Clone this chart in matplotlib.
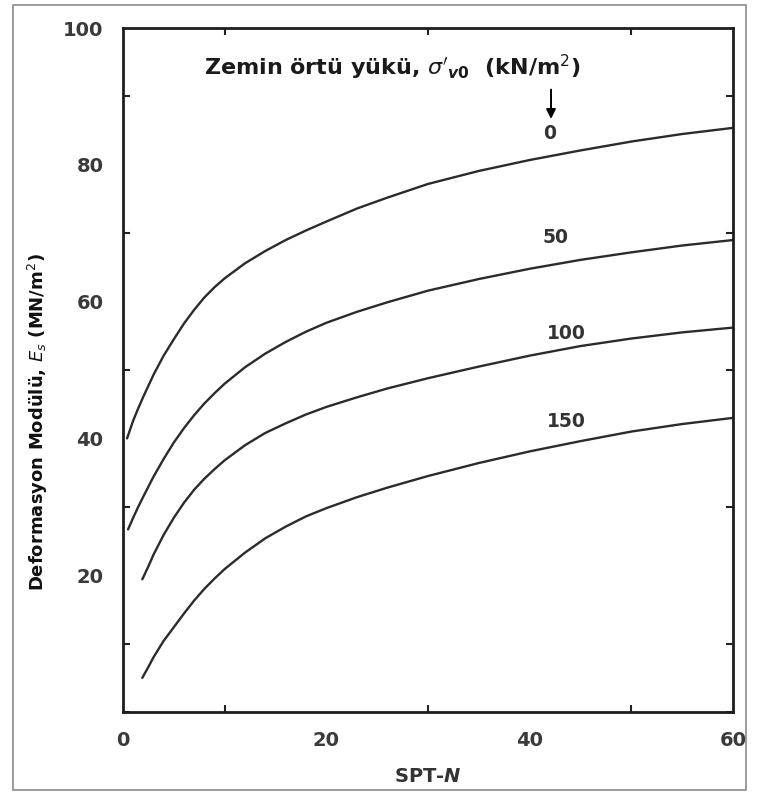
import matplotlib.pyplot as plt
from matplotlib.patches import Rectangle

# ==========================================
# data
# ==========================================
n_0 = [0.4, 1, 1.5, 2, 3, 4, 5, 6, 7, 8, 9, 10, 12, 14, 16, 18, 20, 23, 26, 30,
       35, 40, 45, 50, 55, 60]
es_0 = [40, 42.6, 44.4, 46.1, 49.3, 52.1, 54.5, 56.8, 58.8, 60.6, 62.1, 63.4, 65.6,
        67.4, 69, 70.4, 71.7, 73.6, 75.2, 77.2, 79.1, 80.7, 82.1, 83.4, 84.5, 85.4]

n_50 = [0.5, 1, 1.5, 2, 3, 4, 5, 6, 7, 8, 9, 10, 12, 14, 16, 18, 20, 23, 26, 30,
        35, 40, 45, 50, 55, 60]
es_50 = [26.7, 28.4, 30, 31.5, 34.4, 37, 39.4, 41.5, 43.4, 45.1, 46.6, 48, 50.4, 52.4,
         54.1, 55.6, 56.9, 58.5, 59.9, 61.6, 63.3, 64.8, 66.1, 67.2, 68.2, 69]

n_100 = [1.9, 2.5, 3, 4, 5, 6, 7, 8, 9, 10, 12, 14, 16, 18, 20, 23, 26, 30, 35, 40,
         45, 50, 55, 60]
es_100 = [19.4, 21.3, 23, 25.9, 28.4, 30.6, 32.5, 34.1, 35.5, 36.8, 39, 40.8, 42.2,
          43.5, 44.6, 46, 47.3, 48.8, 50.5, 52.1, 53.5, 54.6, 55.5, 56.2]

n_150 = [1.9, 2.5, 3, 4, 5, 6, 7, 8, 9, 10, 12, 14, 16, 18, 20, 23, 26, 30, 35, 40,
         45, 50, 55, 60]
es_150 = [5, 6.6, 8, 10.4, 12.4, 14.4, 16.3, 18, 19.5, 20.9, 23.3, 25.4, 27.1, 28.6,
          29.8, 31.4, 32.8, 34.5, 36.4, 38.1, 39.6, 41, 42.1, 43]

curve_labels = ["0", "50", "100", "150"]
label_pos = [(42, 84.6), (42.5, 69.4), (43.6, 55.3), (43.6, 42.5)]

x_ticks = [0, 20, 40, 60]
y_ticks = [20, 40, 60, 80, 100]

plt.rcParams["mathtext.fontset"] = "dejavusans"

# ==========================================
# figure
# ==========================================
fig = plt.figure(figsize=(7.57, 7.95), dpi=100)
fig.patches.append(Rectangle((13 / 757, 1 - 790 / 795), 733 / 757, 785 / 795,
                             transform=fig.transFigure, fill=False,
                             edgecolor="#8a8a8a", linewidth=1.2))

ax = fig.add_axes([123 / 757, 1 - 712 / 795, 610 / 757, 684 / 795])

for xs, ys in [(n_0, es_0), (n_50, es_50), (n_100, es_100), (n_150, es_150)]:
    ax.plot(xs, ys, color="#2b2b2b", linewidth=1.7, solid_capstyle="round")

for txt, (xp, yp) in zip(curve_labels, label_pos):
    ax.text(xp, yp, txt, ha="center", va="center", fontsize=13.5,
            fontweight="bold", color="#333333")

ax.text(26.5, 94.2, r"Zemin örtü yükü, $\boldsymbol{\sigma'}_{\boldsymbol{v0}}$  (kN/m$^2$)",
        ha="center", va="center", fontsize=16, fontweight="bold", color="#1a1a1a")
ax.annotate("", xy=(42.1, 86.3), xytext=(42.1, 91.4),
            arrowprops=dict(arrowstyle="-|>", color="black", lw=1.4, mutation_scale=14))

ax.set_xlim(0, 60)
ax.set_ylim(0, 100)
ax.set_xticks(x_ticks)
ax.set_xticks([10, 30, 50], minor=True)
ax.set_yticks(y_ticks)
ax.set_yticks(range(0, 101, 10), minor=True)
ax.tick_params(which="major", direction="in", length=0, labelsize=14,
               labelcolor="#3a3a3a", pad=14)
ax.tick_params(which="minor", direction="in", length=5, width=1.5,
               top=True, right=True, colors="#222222")
for lab in ax.get_xticklabels() + ax.get_yticklabels():
    lab.set_fontweight("bold")

for sp in ax.spines.values():
    sp.set_linewidth(2)
    sp.set_color("#1e1e1e")

ax.set_xlabel(r"SPT-$\boldsymbol{N}$", fontsize=14, fontweight="bold",
              color="#333333")
ax.xaxis.set_label_coords(0.5, -0.08)
ax.set_ylabel(r"Deformasyon Modülü, $\boldsymbol{E_s}$ (MN/m$^2$)", fontsize=13,
              fontweight="bold", color="#111111")
ax.yaxis.set_label_coords(-0.12, 0.424)

fig.savefig("out.png", dpi=100)
